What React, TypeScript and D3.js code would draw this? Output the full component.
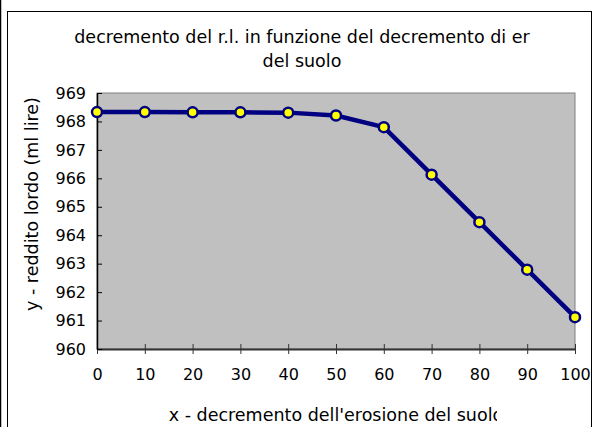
import { useEffect, useRef } from "react"
import * as d3 from "d3"

const erosione = [0, 10, 20, 30, 40, 50, 60, 70, 80, 90, 100]
const reddito = [968.33, 968.33, 968.32, 968.32, 968.31, 968.21, 967.8, 966.13, 964.46, 962.79, 961.12]
const yTicks = [960, 961, 962, 963, 964, 965, 966, 967, 968, 969]
const titleLines = ["decremento del r.l. in funzione del decremento di er", "del suolo"]
const xTitle = "x - decremento dell'erosione del suolo"
const yTitle = "y - reddito lordo (ml lire)"

const W = 594
const H = 427
const font = "'DejaVu Sans', Verdana, sans-serif"

export default function App() {
  const svgRef = useRef<SVGSVGElement>(null)

  useEffect(() => {
    if (!svgRef.current) return
    const svg = d3.select(svgRef.current)
    svg.selectAll("*").remove()

    const margin = { top: 93, right: 19, bottom: 78, left: 97 }

    const x = d3.scaleLinear().domain([0, 100]).range([margin.left, W - margin.right])
    const y = d3.scaleLinear().domain([960, 969]).range([H - margin.bottom, margin.top])

    // outer frames
    svg.append("line")
      .attr("x1", 0.5).attr("x2", 0.5).attr("y1", 0).attr("y2", H)
      .attr("stroke", "#000").attr("stroke-width", 1.5)
    svg.append("rect")
      .attr("x", 7.5).attr("y", 11.5)
      .attr("width", 584).attr("height", H)
      .attr("fill", "#fff").attr("stroke", "#000").attr("stroke-width", 1)

    // the axis title is cut off on the right in the original
    const clip = svg.append("defs").append("clipPath").attr("id", "xclip")
    clip.append("rect").attr("x", 0).attr("y", 0).attr("width", 497).attr("height", H)

    // plot area
    svg.append("rect")
      .attr("x", x(0)).attr("y", y(969))
      .attr("width", x(100) - x(0)).attr("height", y(960) - y(969))
      .attr("fill", "#c0c0c0").attr("stroke", "#808080").attr("stroke-width", 1)

    // axes
    const xAxis = svg.append("g")
      .attr("transform", `translate(0,${y(960)})`)
      .call(d3.axisBottom(x).tickValues(erosione).tickSizeInner(5).tickSizeOuter(0).tickPadding(15))
    xAxis.select(".domain").attr("stroke", "#333").attr("stroke-width", 2)
    xAxis.selectAll(".tick line").attr("y1", -5).attr("stroke", "#333")
    xAxis.selectAll("text").attr("font-family", font).attr("font-size", 16).attr("fill", "#000")

    const yAxis = svg.append("g")
      .attr("transform", `translate(${x(0)},0)`)
      .call(d3.axisLeft(y).tickValues(yTicks).tickSizeInner(5).tickSizeOuter(0).tickPadding(6))
    yAxis.select(".domain").attr("stroke", "#000").attr("stroke-width", 1.5)
    yAxis.selectAll(".tick line").attr("x2", 5).attr("stroke", "#000")
    yAxis.selectAll("text").attr("font-family", font).attr("font-size", 16).attr("fill", "#000")

    // series
    const line = d3.line<number>()
      .x((d, i) => x(erosione[i]))
      .y((d) => y(d))
    svg.append("path")
      .datum(reddito)
      .attr("fill", "none")
      .attr("stroke", "#000080")
      .attr("stroke-width", 4.5)
      .attr("stroke-linejoin", "round")
      .attr("d", line)

    svg.selectAll("circle.pt")
      .data(reddito)
      .join("circle")
      .attr("class", "pt")
      .attr("cx", (d, i) => x(erosione[i]))
      .attr("cy", (d) => y(d))
      .attr("r", 5)
      .attr("fill", "#ffff00")
      .attr("stroke", "#000080")
      .attr("stroke-width", 2.5)

    // titles
    svg.append("g").selectAll("text")
      .data(titleLines)
      .join("text")
      .attr("x", 302)
      .attr("y", (d, i) => 43 + i * 23.5)
      .attr("text-anchor", "middle")
      .attr("font-family", font)
      .attr("font-size", 17.5)
      .text((d) => d)

    svg.append("text")
      .attr("x", (x(0) + x(100)) / 2)
      .attr("y", 421)
      .attr("text-anchor", "middle")
      .attr("font-family", font)
      .attr("font-size", 17.5)
      .attr("clip-path", "url(#xclip)")
      .text(xTitle)

    svg.append("text")
      .attr("transform", "translate(38,204) rotate(-90)")
      .attr("text-anchor", "middle")
      .attr("font-family", font)
      .attr("font-size", 17.5)
      .text(yTitle)
  }, [])

  return (
    <svg
      ref={svgRef}
      width={W}
      height={H}
      style={{ position: "absolute", left: 0, top: 0, background: "#fff" }}
    />
  )
}
